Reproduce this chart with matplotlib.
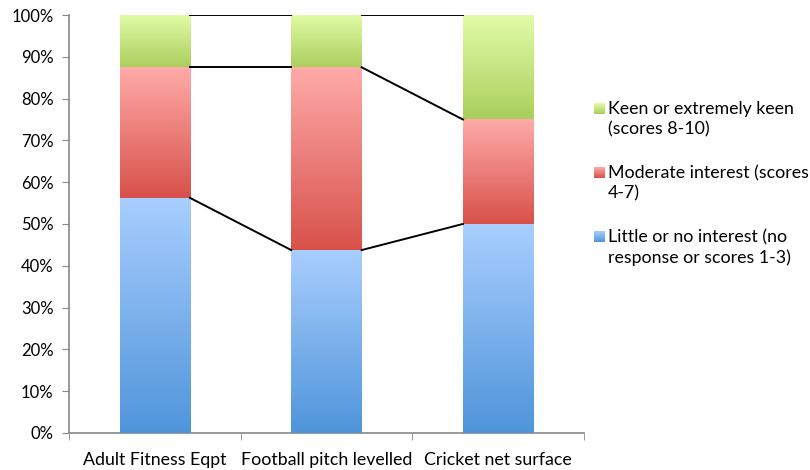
import matplotlib
matplotlib.use("Agg")
import matplotlib.pyplot as plt
import numpy as np
from matplotlib.colors import LinearSegmentedColormap

categories = ["Adult Fitness Eqpt", "Football pitch levelled", "Cricket net surface"]
little = [56.25, 43.75, 50.0]
moderate = [31.25, 43.75, 25.0]
keen = [12.5, 12.5, 25.0]
series_labels = ["Little or no interest (no\nresponse or scores 1-3)",
                 "Moderate interest (scores\n4-7)",
                 "Keen or extremely keen\n(scores 8-10)"]
ytick_labels = [f"{v}%" for v in range(0, 101, 10)]

grad = [("#4F95DA", "#A9CEFF"), ("#D8514A", "#FFABA9"), ("#AACF5C", "#E2FCA8")]

plt.rcParams['font.family'] = ['Lato', 'DejaVu Sans']
fig = plt.figure(figsize=(8.1, 4.7), dpi=100)
ax = fig.add_axes([0.085, 0.079, 0.636, 0.889])

x = np.arange(len(categories))
width = 0.41
series = [little, moderate, keen]
bottoms = np.zeros(len(categories))
grad_img = np.linspace(0, 1, 256).reshape(-1, 1)
for vals, (c0, c1) in zip(series, grad):
    cmap = LinearSegmentedColormap.from_list("g", [c0, c1])
    bars = ax.bar(x, vals, width, bottom=bottoms, color=c0, edgecolor="none", zorder=2)
    for b in bars:
        bx, by = b.get_x(), b.get_y()
        bw, bh = b.get_width(), b.get_height()
        im = ax.imshow(grad_img, cmap=cmap, aspect="auto", origin="lower",
                       extent=[bx, bx + bw, by, by + bh], zorder=3)
        im.set_clip_path(b)
    bottoms = bottoms + np.array(vals)

# connector lines
cum = np.zeros(len(categories))
for vals in series:
    cum = cum + np.array(vals)
    for i in range(len(categories) - 1):
        ax.plot([x[i] + width / 2, x[i + 1] - width / 2], [cum[i], cum[i + 1]],
                color="black", lw=1.4, zorder=4)

ax.set_xlim(-0.5, len(categories) - 0.5)
ax.set_ylim(0, 100)
ax.set_yticks(range(0, 101, 10))
ax.set_yticklabels(ytick_labels, fontsize=12)
ax.set_xticks(x)
ax.set_xticklabels(categories, fontsize=12.8)
ax.set_xticks(np.arange(-0.5, len(categories), 1.0), minor=True)
ax.tick_params(axis="x", which="major", length=0, pad=14)
ax.tick_params(axis="x", which="minor", length=5, color="#888888", direction="out")
ax.tick_params(axis="y", length=5, color="#888888", direction="out", pad=6)
for s in ["top", "right"]:
    ax.spines[s].set_visible(False)
for s in ["left", "bottom"]:
    ax.spines[s].set_color("#888888")
    ax.spines[s].set_linewidth(1.2)

# legend
leg_y = [0.770, 0.634, 0.498]
order = [2, 1, 0]
for yy, k in zip(leg_y, order):
    c0, c1 = grad[k]
    cmap = LinearSegmentedColormap.from_list("g", [c0, c1])
    lax = fig.add_axes([0.733, yy - 0.012, 0.0135, 0.023])
    lax.imshow(grad_img, cmap=cmap, aspect="auto", origin="lower")
    lax.axis("off")
    fig.text(0.750, yy + 0.015, series_labels[k], fontsize=12.8, va="top", ha="left",
             linespacing=1.3)

fig.savefig("out.png", dpi=100)
